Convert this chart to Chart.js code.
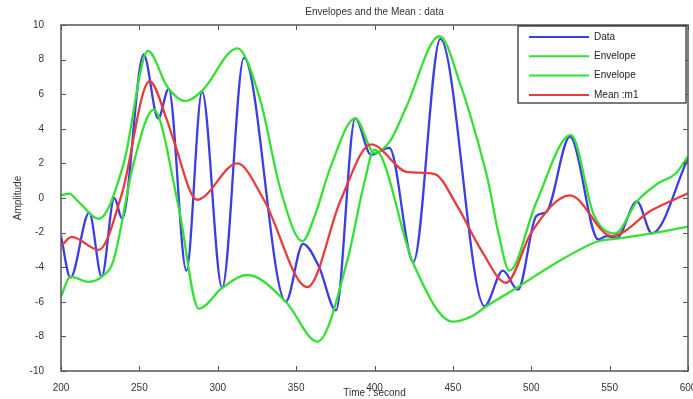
<!DOCTYPE html>
<html lang="en">
<head>
    <meta charset="UTF-8">
    <title>Envelopes and the Mean</title>
    <style>
        body {margin: 0; background: #fff;}
        #myChart {display: block;}
    </style>
</head>
<body>
    <canvas id="myChart" width="693" height="399"></canvas>

    <script src="https://cdn.jsdelivr.net/npm/chart.js@4.4.1/dist/chart.umd.min.js"></script>
    <script>

// 데이터
const dataX = [200, 206, 218, 226, 234, 239, 252.7, 262, 268.7, 280, 290, 302.8, 316.7, 343.4, 354.4, 364.7, 375.4, 387.7, 397.8, 409.5, 424.8, 442, 470.2, 481.9, 491.5, 503.2, 509.7, 524.7, 542.8, 548, 554.6, 567.4, 577, 600];
const dataY = [-2.2, -4.6, -0.85, -4.55, 0, -1.2, 8.3, 4.6, 6.3, -4.2, 6.15, -5.2, 8.1, -6.0, -2.65, -4.0, -6.5, 4.6, 2.5, 2.9, -3.7, 9.2, -6.25, -4.2, -5.3, -1.05, -0.8, 3.55, -2.4, -2.2, -2.3, -0.2, -2.05, 2.3];

const upperX = [200, 205, 212, 224, 240, 255.5, 268, 279.4, 290, 312.4, 327, 340, 354, 362, 372, 387.7, 400, 410, 420, 441.5, 455.4, 462, 472.4, 479, 486, 503, 525.3, 540, 553.5, 567.4, 581, 592, 600];
const upperY = [0.15, 0.25, -0.3, -1.2, 2.0, 8.5, 6.4, 5.6, 6.2, 8.65, 5.7, 0.5, -2.5, -1.0, 1.8, 4.6, 2.6, 3.3, 5.2, 9.35, 6.4, 4.5, 1.0, -2.0, -4.2, -0.3, 3.65, -1.0, -2.05, -0.2, 0.85, 1.4, 2.4];

const lowerX = [200, 206, 217.5, 226, 233.5, 246.3, 259, 275, 287.9, 302.8, 319, 343.4, 363.6, 382.7, 393.4, 400, 424.8, 450, 461.8, 470.7, 490.6, 515, 542.8, 554.6, 577, 600];
const lowerY = [-5.7, -4.55, -4.85, -4.55, -3.6, 2.0, 5.1, -0.5, -6.4, -5.2, -4.45, -6.0, -8.3, -3.6, 0.85, 2.8, -3.8, -7.15, -6.85, -6.3, -5.2, -3.8, -2.5, -2.35, -2.05, -1.65];

const meanX = [200, 206.8, 224, 239, 256.5, 267.6, 272, 286.8, 312.4, 329.4, 357.2, 378.5, 397.8, 421, 438, 453, 468, 484, 500, 524.7, 551.4, 577, 600];
const meanY = [-2.8, -2.25, -3.0, 0.3, 6.75, 4.5, 3.3, -0.1, 2.0, -0.1, -5.15, -0.1, 3.1, 1.5, 1.4, -0.5, -3.0, -4.9, -2.0, 0.15, -2.2, -0.7, 0.27];

const xTicks = [200, 250, 300, 350, 400, 450, 500, 550, 600];
const yTicks = [-10, -8, -6, -4, -2, 0, 2, 4, 6, 8, 10];

const legendNames = ['Data', 'Envelope', 'Envelope', 'Mean :m1'];

const BLUE = '#3d3de6';
const GREEN = '#35e035';
const RED = '#e83c3c';

function toPoints(xs, ys) {
    return xs.map((x, i) => ({x: x, y: ys[i]}));
}

// 매트랩 스타일 테두리, 안쪽 눈금, 제목, 범례
const matlabFrame = {
    id: 'matlabFrame',
    afterDraw(chart) {
        const ctx = chart.ctx;
        const a = chart.chartArea;
        const sx = chart.scales.x;
        const sy = chart.scales.y;
        ctx.save();

        ctx.strokeStyle = '#555';
        ctx.lineWidth = 1.5;
        ctx.strokeRect(a.left, a.top, a.right - a.left, a.bottom - a.top);

        ctx.lineWidth = 1;
        ctx.beginPath();
        xTicks.forEach(t => {
            const px = Math.round(sx.getPixelForValue(t)) + 0.5;
            ctx.moveTo(px, a.bottom); ctx.lineTo(px, a.bottom - 5);
            ctx.moveTo(px, a.top); ctx.lineTo(px, a.top + 5);
        });
        yTicks.forEach(t => {
            const py = Math.round(sy.getPixelForValue(t)) + 0.5;
            ctx.moveTo(a.left, py); ctx.lineTo(a.left + 5, py);
            ctx.moveTo(a.right, py); ctx.lineTo(a.right - 5, py);
        });
        ctx.stroke();

        // 제목
        ctx.fillStyle = '#333';
        ctx.font = '10px "Liberation Sans", Arial, sans-serif';
        ctx.textAlign = 'center';
        ctx.textBaseline = 'middle';
        ctx.fillText('Envelopes and the Mean : data', (a.left + a.right) / 2, 12);

        // 범례
        const lx = a.right - 170, ly = a.top + 1, lw = 168, lh = 77;
        ctx.fillStyle = '#fff';
        ctx.fillRect(lx, ly, lw, lh);
        ctx.strokeStyle = '#222';
        ctx.lineWidth = 1.2;
        ctx.strokeRect(lx, ly, lw, lh);
        const cols = [BLUE, GREEN, GREEN, RED];
        legendNames.forEach((name, i) => {
            const yy = ly + 11 + i * 19.3;
            ctx.strokeStyle = cols[i];
            ctx.lineWidth = 2;
            ctx.beginPath();
            ctx.moveTo(lx + 11, yy); ctx.lineTo(lx + 71, yy);
            ctx.stroke();
            ctx.fillStyle = '#222';
            ctx.textAlign = 'left';
            ctx.fillText(name, lx + 76, yy);
        });

        ctx.restore();
    }
};

const ctx = document.getElementById('myChart').getContext('2d');

const config = {
    type: 'line',
    plugins: [matlabFrame],
    data: {
        datasets: [
            {label: 'Data', data: toPoints(dataX, dataY), borderColor: BLUE, order: 3},
            {label: 'Envelope', data: toPoints(upperX, upperY), borderColor: GREEN, order: 2},
            {label: 'Envelope', data: toPoints(lowerX, lowerY), borderColor: GREEN, order: 1},
            {label: 'Mean :m1', data: toPoints(meanX, meanY), borderColor: RED, order: 0}
        ]
    },
    options: {
        responsive: false,
        animation: false,
        layout: {padding: {top: 25, right: 5, left: 0, bottom: 0}},
        elements: {
            point: {radius: 0},
            line: {borderWidth: 2.3, cubicInterpolationMode: 'monotone', fill: false}
        },
        plugins: {
            legend: {display: false},
            title: {display: false},
            tooltip: {enabled: false}
        },
        scales: {
            x: {
                type: 'linear',
                min: 200,
                max: 600,
                afterBuildTicks: s => { s.ticks = xTicks.map(v => ({value: v})); },
                afterFit: s => { s.height = 28; s.paddingLeft = 0; s.paddingRight = 0; },
                ticks: {color: '#333', font: {size: 10, family: '"Liberation Sans", Arial'}, padding: 3, maxRotation: 0, autoSkip: false},
                grid: {display: false},
                border: {display: false},
                title: {display: true, text: 'Time : second', color: '#333', font: {size: 10, family: '"Liberation Sans", Arial'}, padding: {top: 0, bottom: 0}}
            },
            y: {
                min: -10,
                max: 10,
                afterBuildTicks: s => { s.ticks = yTicks.map(v => ({value: v})); },
                afterFit: s => { s.width = 61; },
                ticks: {color: '#333', font: {size: 10, family: '"Liberation Sans", Arial'}, padding: 9},
                grid: {display: false},
                border: {display: false},
                title: {display: true, text: 'Amplitude', color: '#333', font: {size: 10, family: '"Liberation Sans", Arial'}, padding: {top: 12, bottom: 0}}
            }
        }
    }
};

const myChart = new Chart(ctx, config);
    </script>
</body>
</html>
